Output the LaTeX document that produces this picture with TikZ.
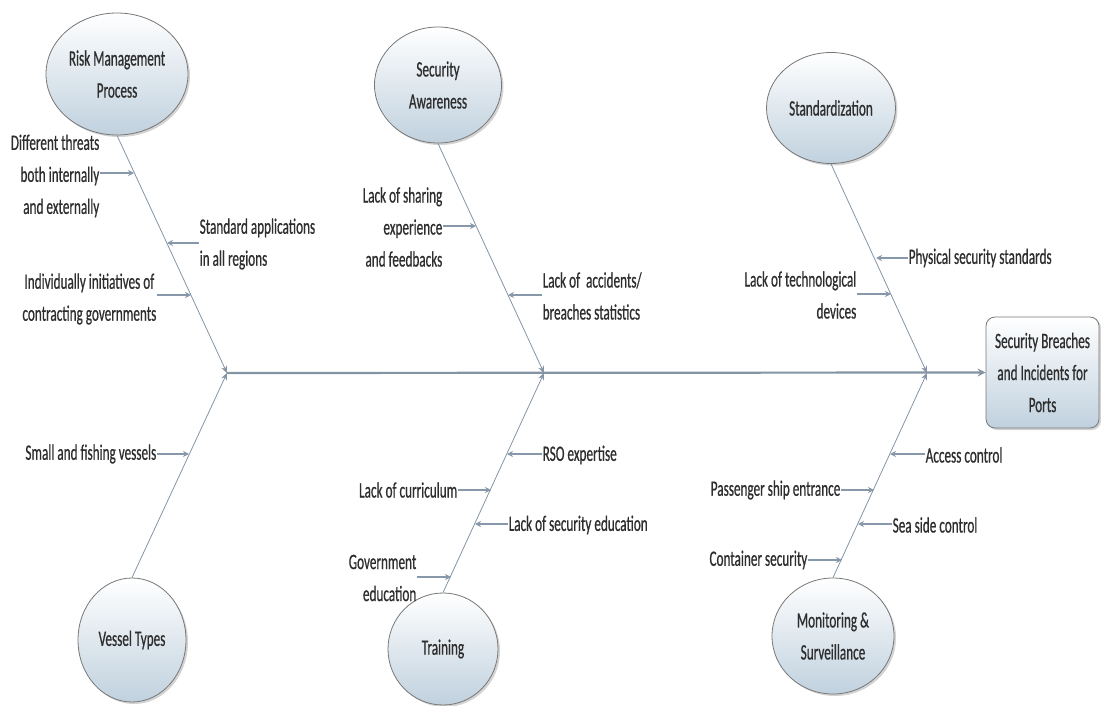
\documentclass[tikz,border=0pt]{standalone}
\usepackage{fontspec}
\setmainfont[FakeStretch=0.6,FakeBold=0.6]{Carlito}
\usetikzlibrary{arrows.meta,shadows,shapes.geometric}
\definecolor{linec}{HTML}{8494A5}
\definecolor{subc}{HTML}{8798AA}
\definecolor{textc}{HTML}{2E2E2E}
\definecolor{fillc}{HTML}{C0D1DE}
\definecolor{borderc}{HTML}{777777}
\begin{document}
\begin{tikzpicture}[x=1pt,y=-1pt,font=\fontsize{22}{32}\selectfont,
  cause/.style={ellipse,draw=borderc,line width=0.8pt,top color=white,bottom color=fillc,
    drop shadow={shadow xshift=2pt,shadow yshift=-2pt,opacity=0.35},inner sep=0pt,align=center,text=textc},
  effect/.style={rectangle,rounded corners=9pt,draw=borderc,line width=0.8pt,top color=white,bottom color=fillc,
    drop shadow={shadow xshift=2pt,shadow yshift=-2pt,opacity=0.35},inner sep=0pt,align=center,text=textc,
    minimum width=113pt,minimum height=111pt},
  bone/.style={draw=linec,line width=0.8pt,-{Stealth[length=7pt,width=6pt]}},
  spine/.style={draw=linec,line width=2.2pt,-{Stealth[length=8pt,width=8pt]}},
  sub/.style={draw=subc,line width=1.8pt,-{Stealth[length=6pt,width=6pt]}},
  lab/.style={text=textc,inner sep=0.5pt}]
\useasboundingbox (0,0) rectangle (1101,706);

% junctions
\coordinate (j1) at (227,373);
\coordinate (j2) at (544,373);
\coordinate (j3) at (927,373);

% cause nodes
\node[cause,minimum width=142pt,minimum height=122pt] (rm) at (117,74) {Risk Management\\Process};
\node[cause,minimum width=127pt,minimum height=116pt] (sa) at (438,85) {Security\\Awareness};
\node[cause,minimum width=129pt,minimum height=111pt] (st) at (831,108) {Standardization};
\node[cause,minimum width=108pt,minimum height=124pt] (vt) at (132,640) {Vessel Types};
\node[cause,minimum width=110pt,minimum height=112pt] (tr) at (443,649) {Training};
\node[cause,minimum width=122pt,minimum height=116pt] (ms) at (833,636) {Monitoring \&\\Surveillance};

% effect
\node[effect] (eff) at (1042.5,372.5) {Security Breaches\\and Incidents for\\Ports};

% spine and bones
\draw[spine] (j1) -- (eff.west);
\draw[bone] (rm.south) -- (j1);
\draw[bone] (vt.north) -- (j1);
\draw[bone] (sa.south) -- (j2);
\draw[bone] (tr.north) -- (j2);
\draw[bone] (st.south) -- (j3);
\draw[bone] (ms.north) -- (j3);

% points on bones
\coordinate (c1) at (134,173);
\coordinate (c2) at (167,243);
\coordinate (c3) at (191,295);
\coordinate (c4) at (189,454);
\coordinate (c5) at (476,226);
\coordinate (c6) at (508,295);
\coordinate (c7) at (507,454);
\coordinate (c8) at (491,490);
\coordinate (c9) at (475,524);
\coordinate (c10) at (451,577);
\coordinate (c11) at (876,258);
\coordinate (c12) at (891,294);
\coordinate (c13) at (890,454);
\coordinate (c14) at (874,490);
\coordinate (c15) at (858,524);
\coordinate (c16) at (842,560);

% labels
\node[lab,anchor=east,align=right] (t1) at (100,176) {Different threats\\both internally\\and externally};
\node[lab,anchor=west,align=left] (t2) at (199,244) {Standard applications\\in all regions};
\node[lab,anchor=east,align=center] (t3) at (157,299) {Individually initiatives of\\contracting governments};
\node[lab,anchor=east] (t4) at (157,454) {Small and fishing vessels};
\node[lab,anchor=east,align=right] (t5) at (443,227) {Lack of sharing\\experience\\and feedbacks};
\node[lab,anchor=west,align=left] (t6) at (542,296) {Lack of\ \ accidents/\\breaches statistics};
\node[lab,anchor=west] (t7) at (542,455) {RSO expertise};
\node[lab,anchor=east] (t8) at (458,490) {Lack of curriculum};
\node[lab,anchor=west] (t9) at (508,525) {Lack of security education};
\node[lab,anchor=east,align=right] (t10) at (417,578) {Government\\education};
\node[lab,anchor=west] (t11) at (908,258) {Physical security standards};
\node[lab,anchor=east,align=right] (t12) at (857,295) {Lack of technological\\devices};
\node[lab,anchor=west] (t13) at (925,455) {Access control};
\node[lab,anchor=east] (t14) at (841,490) {Passenger ship entrance};
\node[lab,anchor=west] (t15) at (892,525) {Sea side control};
\node[lab,anchor=east] (t16) at (808,560) {Container security};

% sub-cause arrows
\draw[sub] (t1.east |- c1) -- (c1);
\draw[sub] (t2.west |- c2) -- (c2);
\draw[sub] (t3.east |- c3) -- (c3);
\draw[sub] (t4.east |- c4) -- (c4);
\draw[sub] (t5.east |- c5) -- (c5);
\draw[sub] (t6.west |- c6) -- (c6);
\draw[sub] (t7.west |- c7) -- (c7);
\draw[sub] (t8.east |- c8) -- (c8);
\draw[sub] (t9.west |- c9) -- (c9);
\draw[sub] (t10.east |- c10) -- (c10);
\draw[sub] (t11.west |- c11) -- (c11);
\draw[sub] (t12.east |- c12) -- (c12);
\draw[sub] (t13.west |- c13) -- (c13);
\draw[sub] (t14.east |- c14) -- (c14);
\draw[sub] (t15.west |- c15) -- (c15);
\draw[sub] (t16.east |- c16) -- (c16);
\end{tikzpicture}
\end{document}
